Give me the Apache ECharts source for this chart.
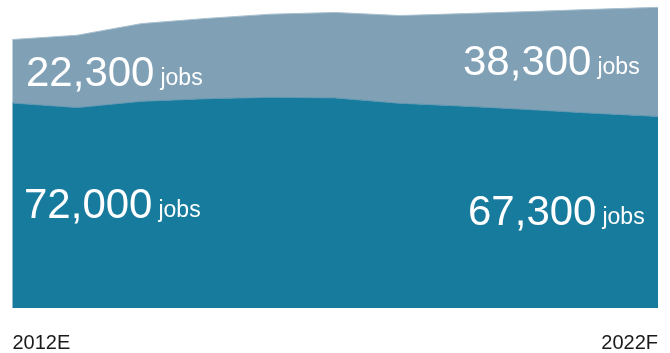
<!DOCTYPE html>
<html><head><meta charset="utf-8">
<script src="https://cdn.jsdelivr.net/npm/echarts@6/dist/echarts.min.js"></script>
<style>html,body{margin:0;padding:0;background:#fff}#c{width:670px;height:353px}</style>
</head><body><div id="c"></div>
<script>
var years = ['2012','2013','2014','2015','2016','2017','2018','2019','2020','2021','2022'];
var tickLabels = ['2012E','','','','','','','','','','2022F'];
// thousands of jobs
var baseJobs = [72.0, 70.4, 72.6, 73.5, 74.0, 73.8, 71.9, 70.9, 69.7, 68.4, 67.3];
var addedJobs = [22.3, 25.4, 27.3, 28.2, 29.2, 30.0, 30.8, 32.5, 34.4, 36.5, 38.3];
var labelTexts = ['22,300', '38,300', '72,000', '67,300'];
var chart = echarts.init(document.getElementById('c'));
var fontF = '"Liberation Sans", Arial, sans-serif';
chart.setOption({
  animation:false,
  grid:{left:12.5, right:12, top:0.5, bottom:40},
  xAxis:{type:'category', data:years, boundaryGap:false,
    axisLine:{show:false}, axisTick:{show:false}, splitLine:{show:false},
    axisLabel:{interval:0, margin:25, fontSize:20, color:'#1a1a1a', fontFamily:fontF,
      alignMinLabel:'left', alignMaxLabel:'right',
      formatter:function(v,i){return tickLabels[i];}}},
  yAxis:{type:'value', min:0, max:108, show:false, splitLine:{show:false}},
  series:[
    {type:'line', stack:'t', data:baseJobs, symbol:'none', smooth:false,
      lineStyle:{width:1, color:'#5f97b1'}, areaStyle:{color:'#177b9d', opacity:1}},
    {type:'line', stack:'t', data:addedJobs, symbol:'none', smooth:false,
      lineStyle:{width:1, color:'#a9c0cf'}, areaStyle:{color:'#80a0b5', opacity:1}}
  ]
});
var pos = [
  {left:26, top:53},
  {left:463, top:42},
  {left:24, top:185},
  {left:468, top:192}
];
var gfx = labelTexts.map(function(t, i){
  var p = pos[i];
  return {type:'text', z:100, left:p.left, top:p.top, style:{
    text:'{n|'+t+'}{j|jobs}',
    rich:{n:{fontSize:42, fill:'#fff', fontFamily:fontF, verticalAlign:'bottom'},
          j:{fontSize:23, fill:'#fff', fontFamily:fontF, verticalAlign:'bottom', padding:[0,0,5,6]}},
    fill:'#fff', font:'42px '+fontF}};
});
chart.setOption({graphic:gfx});
</script></body></html>
